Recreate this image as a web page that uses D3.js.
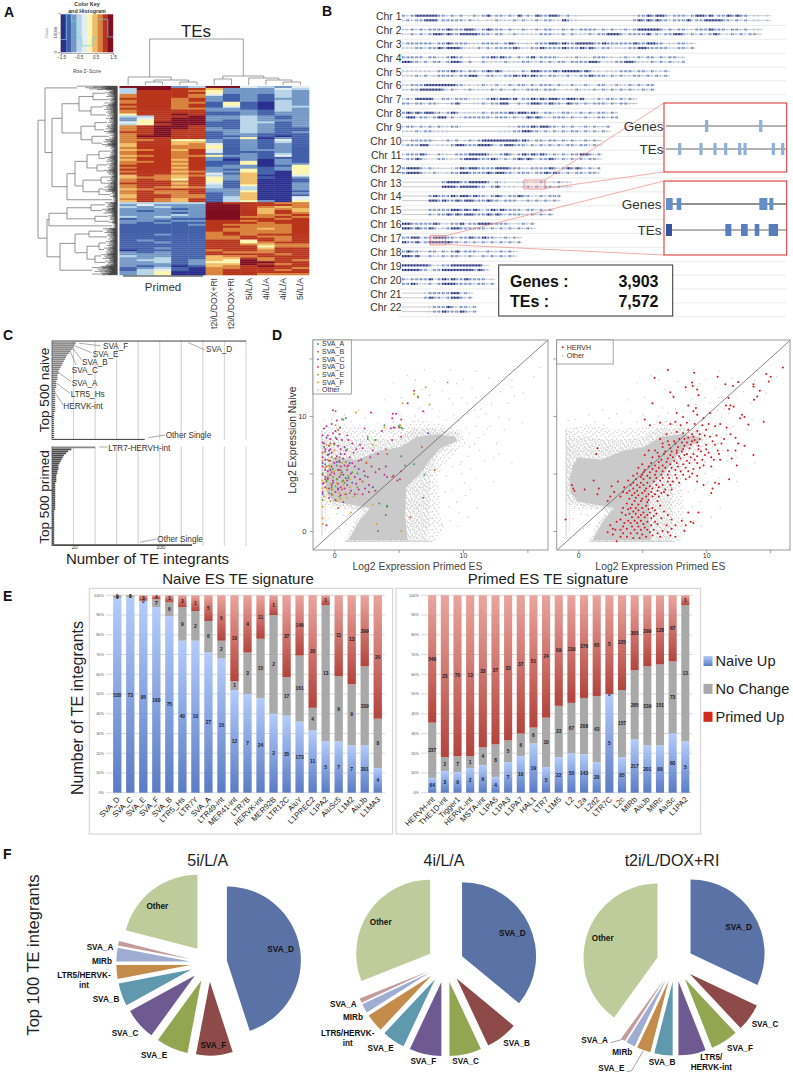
<!DOCTYPE html>
<html>
<head>
<meta charset="utf-8">
<script src="https://cdn.jsdelivr.net/npm/d3@7"></script>
<style>
	body { margin: 0; background: #fff; }
	text { font-family: "Liberation Sans", Arial, sans-serif; }
</style>
</head>
<body>
<script>
// ---------- A: heatmap ----------
var heatColumns = ["P1", "P2", "P3", "P4", "P5", "t2i/L/DOX+RI", "t2i/L/DOX+RI", "5i/L/A", "4i/L/A", "4i/L/A", "5i/L/A"];
// one string per row, one digit per column, 0 = z -1.5 ... 9 = z +1.5
var heatRows = [
	"99923994324", "39988622243", "38887522232", "38888522232", "78887412132", "78887212132",
	"88878212122", "78878212132", "78877151032", "88878151032", "78878141033", "88877221032",
	"78888222132", "78888112122", "58898112122", "33889223212", "24899223212", "25899213222",
	"45999113312", "35899113212", "78998113212", "78998213211", "78988223211", "88988123212",
	"78988122111", "79988112101", "78888125021", "77855212141", "78866212131", "68867412121",
	"68877512121", "78877512121", "67868412221", "78878411121", "78878212131", "67877522141",
	"78878212111", "68868202021", "77878115021", "78868115022", "88878122015", "78868222125",
	"88878215125", "78867225105", "88878416105", "68767326004", "67768526102", "78758526001",
	"78878516001", "88868416002", "78878315002", "78767313002", "67888223002", "78778225001",
	"78778126002", "68877126001", "68877136004", "78768136004", "68768135205",
	"33333988877", "24222998887", "32322998767", "22212998676", "21222998686", "22212998687",
	"22232998778", "32322997787", "12211998878", "22122887888", "21211888788", "11112877778",
	"11111887778", "11111877678", "11111877778", "11111787778", "11211787888", "11111778778",
	"11111778878", "12111885878", "11211885788", "11111887677", "11111888577", "11211888688",
	"01111788788", "21211877788", "22211888878", "32211677888", "22311668788", "23312659787",
	"22312559988", "22212669878", "21201678988", "12310778887", "13410788878", "23500788888",
	"23500788777"
];
var keyColors = ["#2b2f8f", "#4361aa", "#7398c6", "#b8d4e8", "#e4eef2", "#fdf6b0", "#f0bd66", "#d9823c", "#b8351f", "#7f0f20"];
var keyCounts = [6500, 19600, 15800, 7400, 3300, 3300, 7400, 16800, 16800, 7800];
var keyTicks = [-1.5, -0.5, 0.5, 1.5];
var heatLabels = ["t2i/L/DOX+RI", "t2i/L/DOX+RI", "5i/L/A", "4i/L/A", "4i/L/A", "5i/L/A"];

// [height, child, child], leaf is a column index
var colTree = [46,
	[8, 0, [5, [3, 1, 2], [3, 3, 4]]],
	[9, [6, 5, 6], [7, 7, [5, 8, [3, 9, 10]]]]
];
// [height, child, child], leaf is [height, number of rows]
var rowTree = [79,
	[72, [40, 10],
		[65,
			[55,
				[38, [24, [12, 18], [9, 16]], [26, [14, 22], [11, 20]]],
				[36, [22, [10, 20], [13, 18]], [25, [8, 16], [15, 20]]]],
			[50,
				[42,
					[30, [18, [8, 22], [12, 16]], [20, [10, 18], [13, 14]]],
					[34, [16, [9, 18], [11, 14]], [18, [14, 16], [7, 14]]]],
				[5, 13]]]],
	[70,
		[68, [50, [26, [12, 14], [15, 16]], [22, [9, 14], [8, 12]]], [5, 12]],
		[57,
			[42,
				[28, [14, 16], [10, 14]],
				[30, [18, [11, 18], [13, 16]], [22, [16, 18], [12, 16]]]],
			[25, 25]]]
];
// how far each leaf stub reaches, as a share of its cluster height
var leafReach = [1, 0.35, 0.6, 0.25, 0.8, 0.4, 0.3, 0.7, 0.2, 0.5, 0.9, 0.3, 0.45, 0.25, 0.65, 0.35, 0.55];

// ---------- B: chromosome tracks ----------
var chrNames = ["Chr 1", "Chr 2", "Chr 3", "Chr 4", "Chr 5", "Chr 6", "Chr 7", "Chr 8", "Chr 9", "Chr 10", "Chr 11",
	"Chr 12", "Chr 13", "Chr 14", "Chr 15", "Chr 16", "Chr 17", "Chr 18", "Chr 19", "Chr 20", "Chr 21", "Chr 22"];
var chrLengths = [249, 243, 198, 191, 181, 171, 159, 146, 141, 135.5, 135, 133.8, 115, 107, 102.5, 90, 81, 78, 59, 63, 48, 51]; // Mb
// density per 3 Mb bin, read by eye: 0 none, 1 light, 2 mid, 3 dark
var geneTracks = [
	"21233333221212012123122121312132233212010000000000001223233212221233231223232201101",
	"112121222232223321232221211211212211212122221212112123333321212211222322212212011",
	"122222212232222111222212321011222332322333322322222232233220112211",
	"2222202211232201002232322021231222210112110222110121121220212211",
	"111111102223221221232320110213322232333323211011122212212112",
	"112223333333221101211201212212122212112112102201211212122",
	"12133331022122211112323323022323233223323101212212121",
	"2323233221232011112122223233232022112211212122121",
	"12212121211221000000000011222323322121201212112",
	"112222210121201212333333332321221221212112121",
	"122232102110222333321123212323232121212233212",
	"233321211001232332222333222112222321232321212",
	"00000000023332233332021100111012101211",
	"000000232223233232212321223220121222",
	"0000002222233232321232322220221212",
	"332222232012231223332222101212",
	"223312233322122322322112121",
	"23221022021231222102112121",
	"33333320122333333310",
	"212222302323223222201",
	"0000012222233121",
	"00000012223212212"
];
var teTracks = [
	"12122333122222121101121112121121221132110000000000002323232212223122333322121201101",
	"102121233232233332221220121111122211202111212233321222231212233212121232012121221",
	"111221223233321112121222232112232222322232321221111223322222112212",
	"3322120220233202002111121112211212122022223320112233211121212112",
	"111212012222122331022112232323221221120122322212121122121212",
	"112233333212101211112121121122212221011211121212121211212",
	"22122122101231001121223310212332232213221212221212211",
	"1331221233120122222212221211323211222121121122122",
	"11121221111000000000001112233221212121221212121",
	"122233101112332223332123322212121212122122121",
	"122321002211123332223212123232122321212121221",
	"233321121012233222232332212221223232121221221",
	"00000000033323333220231111012121221211",
	"000000332322323322232212220121212121",
	"0000002122323233222323212221121212",
	"332322320123322222212121212121",
	"322312333332212121212121212",
	"33231021121221121021212121",
	"33332202233333332321",
	"223201202333222212212",
	"0000023221233212",
	"00000012232223212"
];
// inset positions along the magnified window
var inset1Genes = [128, 290];
var inset1TEs = [47, 111, 153, 185, 227, 243, 328, 356];
var inset2Genes = [[6, 26], [38, 52], [286, 310], [316, 328]];
var inset2TEs = [[6, 24], [184, 202], [231, 251], [272, 286], [314, 342]];
var statLabels = ["Genes :", "TEs :"];
var statValues = ["3,903", "7,572"];

// ---------- C: ranked integrant bars ----------
var naiveBars = [180, 22, 21, 20, 19, 17, 16, 14, 13, 12, 11, 10, 9, 8, 7, 6, 6, 5, 5, 5, 4, 4, 4, 4, 3, 3, 3, 3, 3, 3, 3, 3, 3, 3, 3, 3, 2, 2, 2, 2, 2, 2, 2, 2, 2, 2, 2, 2, 2, 86];
var primedBars = [40, 18, 15, 13, 11, 10, 9, 8, 7, 6, 6, 6, 5, 5, 4, 4, 4, 4, 3, 3, 3, 3, 3, 3, 3, 3, 3, 3, 3, 3, 3, 3, 2, 2, 2, 2, 2, 2, 2, 2, 2, 2, 2, 2, 2, 2, 2, 2, 2, 130];
var integrantTicks = [20, 100];
var integrantGrid = [20, 40, 60, 80, 100, 120, 140, 160, 180];

// ---------- D: scatter, [primed, naive] ----------
var denseCloud = [[-0.05, 6.4], [1.76, 6.2], [3.58, 7], [5.13, 7.3], [6.42, 8.2], [7.98, 8.4], [9.4, 8.2], [9.53, 7.8], [8.24, 7.2], [7.46, 6.2], [6.7, 5], [5.6, 3.8], [5.5, 1.5], [5.7, -0.8], [1.1, -0.8], [2, 0.96], [2.8, 2], [1.5, 2.27], [-0.05, 2.56], [-0.57, 3.3], [-0.7, 4.45], [-0.44, 5.6]];
var mediumCloud = [[-0.95, 8], [0.5, 8.2], [2, 7.9], [3.4, 7.9], [5, 8.1], [6.2, 8.9], [7.9, 8.9], [9.6, 8.6], [9.8, 7.8], [8.7, 7.3], [7.9, 6.3], [7.5, 5], [7.4, 2.7], [7.4, 0.5], [7.1, -0.9], [0.9, -0.9], [1.7, 0.9], [2.3, 1.7], [1.1, 2], [-0.3, 2.3], [-0.95, 2.9]];
var sparseCloud = [[-0.95, 8.9], [0.8, 9.3], [3, 8.8], [4.5, 9], [5.5, 9.3], [6.5, 9.7], [7.8, 9.4], [9.8, 8.8], [10.2, 7.6], [9.2, 6.6], [8.4, 5.6], [8, 4.5], [8.2, 3], [8.2, 1.5], [8.5, 0.2], [7.9, -0.9], [0.8, -0.9], [1.5, 0.9], [2.1, 1.8], [1, 1.9], [-0.4, 1.9], [-0.95, 2.5]];
var otherPoints = [[7, 14], [9, 14], [11, 13.9], [14, 14], [16, 14.2], [5.7, 13.5], [7.8, 13], [10, 13.2], [12, 13.3], [13.8, 13.1], [4.6, 12.9], [6.3, 13.1], [8.4, 12.2], [13.8, 12.5], [15.5, 13.4], [14.7, 12], [14, 11.7], [13.5, 11.1], [11, 11.6], [12.2, 11], [11.4, 10.6], [10.3, 11.1], [9.2, 11], [8.2, 10.4], [3, 10.2], [1.9, 10.5], [0.8, 10.1], [5.1, 10.1], [6.3, 10], [7, 10.3], [9.7, 9.6], [10.4, 10.2], [11.2, 9.9], [12.8, 9.9], [13.6, 9.7], [14.6, 9.4], [11, 9.1], [11.9, 8.9], [12.1, 9.1], [10.5, 8.5], [11.2, 8.1], [12.6, 7.6], [12.8, 6.7], [12.4, 6.4], [11.3, 7], [10.5, 7.3], [10.4, 6.5], [9.9, 6], [10.6, 5.4], [11, 4.6], [10.6, 3.6], [10.2, 3.1], [11.1, 2], [9.7, 1.6], [9.5, 2.5], [9, 0.9], [8.4, 0.5], [9.6, 0.4], [13.8, 5.9], [12.4, 4.3], [2, 9.2], [-0.2, 9.7], [-0.8, 9.6], [1.3, 9.5], [3.4, 9.4], [4.6, 9.5], [0.4, 0.2], [0.9, 0.6], [-0.4, 1.1], [0.2, 1.5], [0.7, 1.4],
	[8.1, 9.9], [8.7, 9.6], [9.3, 10.1], [7.6, 10.6], [6.6, 10.7], [4.1, 10.4], [2.4, 9.8], [10.9, 10.5], [11.8, 10.2], [9.9, 11.6], [8.9, 11.5], [10.7, 12.4], [12.9, 12.1], [9.5, 12.8], [6.8, 12.3], [5.2, 11.6], [7.4, 11.8], [3.9, 11.4], [10.2, 8.9], [11.6, 8.4], [13.2, 8.8], [10.9, 7.6], [11.7, 6.1], [9.9, 5], [10.1, 4.2], [9.2, 3.6], [8.9, 2.1], [10.4, 1.2], [9.8, 5.8], [9.2, 5.6], [8.7, 4.8], [8.6, 3.4]];
var svaA = [[0.6, 9.7], [0.9, 9.8], [3.9, 9.2], [5, 9.1], [5.3, 8.9], [0.1, 8.1], [2.6, 8], [3.2, 7.9], [5.2, 6.5], [6.2, 5.8], [5.5, 5.7], [7, 4.9], [1.8, 5], [1.1, 4.6], [6.9, 2.9], [3.5, 2.4], [4.1, 2.2], [4.1, 2.1], [4, 1.4], [3.4, 0], [0.4, 6.1], [-0.1, 5.4], [0.8, 4.2], [-0.4, 6.7], [-0.8, 7.3], [-0.2, 3.8], [-0.7, 5.8], [0.2, 5.7], [-0.6, 4.3], [0.5, 4.9]];
var svaB = [[0.1, 10.4], [0.3, 8.8], [4.7, 9], [4, 7.1], [4.1, 6.7], [6.8, 7.3], [5.2, 5.2], [7.8, 5.3], [4.5, 4.7], [0.3, 2], [5.9, 1.2], [1, 5.6], [-0.3, 7.6], [0.6, 3.6], [-0.5, 4.5], [0.1, 6.3], [-0.9, 6.8], [2.2, 4.3], [-0.2, 5.1], [-0.6, 5.6], [0.4, 5.3], [-0.8, 4.2], [0.7, 4.4], [-0.3, 6.1]];
var svaC = [[0.45, 9], [4.6, 9], [7.3, 8.5], [2.4, 4.8], [1.2, 5.9], [0.5, 6.7], [-0.3, 5.3], [-0.6, 8.1], [0.3, 3.7], [3, 3.8], [-0.9, 3.2], [0.8, 7.3], [-0.1, 4.2], [2.1, 6.2], [-0.4, 7], [1.9, 5.4], [1.4, 4.2], [-0.9, 5.9], [-0.7, 4.7], [0.2, 6], [0.6, 5.1], [-0.2, 6.4], [-0.8, 7.6], [0.9, 4.6]];
var svaD = [[-0.1, 10.5], [6.2, 12.2], [6.9, 10.4], [5.7, 11.1], [2.85, 10.3], [4.55, 10.2], [4.8, 10.2], [4.5, 9.8], [2.35, 8.9], [3.7, 8.7], [4.4, 8.9], [5.05, 9], [5.2, 8.2], [4.5, 7.9], [-0.2, 9.3], [-0.8, 8.9], [-0.6, 9.1], [0.1, 8.7], [0.4, 8.4], [1, 8.3], [-0.3, 8], [-0.9, 8.3], [0.6, 7.9], [1.4, 7.6], [2, 7.5], [2.2, 7.2], [3, 7], [3.4, 6.7], [0.3, 7.4], [-0.4, 7.4], [-0.9, 7.7], [0.9, 7], [1.5, 6.8], [-0.7, 6.9], [-0.2, 6.8], [0.2, 6.5], [0.7, 6.3], [1.2, 6.4], [1.9, 6.1], [2.5, 5.9], [-0.9, 6.4], [-0.4, 6.1], [0, 5.9], [0.5, 5.6], [1, 5.3], [1.6, 5.6], [2.3, 5.2], [3.2, 5.1], [3.5, 5.4], [4, 5.6], [3.9, 4.9], [-0.9, 5.6], [-0.5, 5.2], [0, 5], [0.4, 4.7], [1, 4.4], [1.6, 4.7], [2.7, 4], [3.2, 3.5], [-0.9, 4.9], [-0.5, 4.6], [-0.1, 4.4], [0.3, 4.1], [0.8, 3.7], [1.3, 3.5], [2.2, 3.2], [2.7, 3.4], [-0.9, 4.1], [-0.4, 3.7], [0.1, 3.4], [0.5, 3.1], [-0.9, 3.4], [-0.4, 2.9], [0.1, 2.7], [0.7, 2.5], [-0.6, 0.5], [5.1, 4.5], [4.9, 4.4], [4.6, 4.8], [4.1, 4.7], [5.2, 9.7], [0.2, 9.6],
	[-0.7, 7.1], [-0.5, 6.6], [-0.3, 7.1], [0, 7.6], [0.2, 8], [0.5, 7.1], [0.8, 6.7], [0.4, 6], [-0.7, 6.2], [-0.2, 5.6], [0.3, 5.3], [0.8, 5.7], [-0.7, 5.3], [-0.3, 4.9], [0.2, 4.5], [0.7, 4.9], [1.3, 5], [-0.7, 4.5], [-0.2, 4], [0.5, 3.8], [1, 4], [1.7, 4.1], [-0.7, 3.8], [-0.2, 3.2], [0.3, 3.6], [0.9, 3.2], [1.6, 3.2], [1.9, 3.6], [2.4, 3.7], [1.4, 5.9], [1.1, 5.7], [2, 4.5], [2.6, 4.7], [2.9, 5.6], [2.8, 6.4], [1.7, 7.1], [1.1, 7.9], [-0.5, 8.3], [-0.1, 8.5]];
var svaE = [[6.5, 11.6], [6.5, 11.7], [0.7, 9.7], [5.1, 9.2], [5.2, 9], [2.6, 8.2], [3.2, 7.9], [1, 7.1], [0, 7.5], [-0.5, 6.2], [0.5, 5.3], [1.1, 4.8], [-0.2, 3.6], [0.9, 6], [-0.9, 5], [1.4, 5.1], [0.2, 4.5], [-0.4, 3.3], [1.8, 3.8], [0.4, 3], [-0.9, 2.7], [-0.6, 4.4], [-0.1, 4.7], [0.6, 4.3], [0.1, 3.9], [-0.4, 5.7], [0.4, 6.4], [1.2, 3.3]];
var svaF = [[8.8, 12.9], [7.1, 12.5], [6.2, 11.9], [7.4, 11], [5.3, 11.1], [1.7, 10.3], [0.1, 9.2], [3.9, 9], [5.1, 9.2], [3, 7.5], [2.5, 6], [0, 7], [-0.9, 6.1], [-0.3, 5.5], [0.5, 5], [1.2, 3.8], [-0.9, 4.4], [-0.1, 3.1], [0.2, 2.6], [-0.9, 2.1], [-0.9, 1.1], [-0.9, 0.6], [1.3, 1.6], [3, 2.3], [3.3, 0.6], [5.2, 0], [-0.3, 4.1], [0.8, 3.2], [1, 2.9],
	[-0.6, 3.7], [-0.1, 3.6], [0.4, 3.3], [-0.5, 4.8], [0.2, 4.2], [0.7, 4], [-0.7, 5.5], [0, 5.2], [0.6, 5.9], [1.2, 4.5], [-0.8, 3], [-0.3, 2.6], [0.5, 2.8], [-0.2, 6.4], [-0.6, 7.5], [1.5, 3], [1.8, 3.2], [-0.9, 3.7]];
var hervh = [[16, 14.2], [7, 14], [9.06, 13.75], [5.96, 13.3], [10.9, 13.4], [14.7, 13.65], [15.05, 13.4], [14.9, 13], [12.5, 12.95], [11.5, 12.75], [12.1, 12.6], [13.7, 12.75], [13.7, 12.55], [14.2, 12.2], [14, 11.7], [13.75, 11.4], [8.9, 12.9], [8.95, 12.6], [9.3, 12.3], [8.4, 12.5], [7.2, 12.05], [7.45, 11.65], [9.4, 11.8], [5.8, 11.1], [8.6, 10.9], [11.75, 11.55], [11.55, 10.9], [11.9, 10.9], [12.15, 10.8], [11.8, 10.6], [9.2, 10.7], [9, 10.4], [7.7, 10.25], [8.2, 9.9], [9.3, 10.1], [10.3, 10.25], [9.8, 9.8], [12.8, 10.1], [13, 9.9], [12.65, 9.8], [13.3, 9.25], [14.5, 9.5],
	[5.2, 9.7], [5.6, 9.2], [6.4, 9.4], [7.2, 9.3], [7.6, 9.5], [8, 9.2], [8.5, 9.4], [9.1, 9.3], [9.7, 9.2], [10.2, 9.3], [10.7, 9.1], [11.1, 9.3], [11.6, 9], [10, 8.8], [9.3, 8.7], [8.6, 8.8], [8.9, 8.4], [8.2, 8.5], [7.7, 8.6], [6.9, 8.4], [6.4, 8], [7, 7.8], [7.5, 7.8], [7.9, 8], [8.3, 8], [8.6, 8.1], [9.1, 7.9], [9.5, 8], [9.9, 8.3], [10.3, 8.2], [10.8, 8.3], [11.4, 8], [11.9, 8.4], [12.3, 8.1], [12.5, 7.6], [13, 7.4], [11.2, 7.6], [10.7, 7.5], [10, 7.5], [9.4, 7.4], [8.8, 7.5], [8.3, 7.4], [7.8, 7.3], [7.2, 7.2], [6.6, 7.3], [6, 7], [5.5, 7], [5.2, 6.6], [5.8, 6.4], [6.3, 6.5], [6.7, 6.7], [7.2, 6.6], [7.7, 6.8], [8.1, 6.9], [8.5, 6.7], [9, 6.7], [9.6, 6.9], [10.2, 6.8], [11, 6.7], [11.7, 7], [12.3, 7], [13.7, 6.6], [12, 6.3], [11.1, 6.2], [10.4, 6.4], [9.7, 6.2], [9.1, 6.2], [8.5, 6.1], [8, 6.3], [7.5, 6.1], [6.9, 6], [6.3, 6],
	[5.7, 5.9], [5, 5.8], [4.7, 5.5], [5.2, 5.3], [5.8, 5.4], [6.3, 5.5], [6.8, 5.5], [7.3, 5.5], [7.8, 5.6], [8.4, 5.5], [9, 5.4], [9.5, 5.5], [10.4, 5.6], [12.4, 5.7], [11.8, 4.5], [11, 4.1], [10.7, 4.2], [10.5, 3.7], [9.8, 4], [9.3, 4.3], [8.7, 4.7], [8.2, 4.9], [7.6, 4.9], [7, 4.9], [6.5, 4.9], [6, 4.9], [5.4, 4.8], [4.9, 4.7], [4.3, 4.8], [3.9, 4.4], [4.3, 4.2], [4.9, 4.2], [5.4, 4.2], [5.9, 4.3], [6.4, 4.4], [7, 4.3], [7.4, 4.3], [7.9, 4.2], [4.3, 3.7], [4.8, 3.8], [5.3, 3.7], [5.8, 3.7], [6.3, 3.8], [6.8, 3.6], [7.3, 3.6], [3.8, 3.3], [4.4, 3.3], [5, 3.3], [5.5, 3.2], [6, 3.2], [6.5, 3.3], [7, 3.1], [10.4, 3.3], [3.1, 4.3], [2.6, 3.9], [2.8, 3.4], [2.5, 3], [2.3, 2.6], [3.3, 3], [4, 2.8], [4.5, 2.9], [5, 2.8], [5.5, 2.7], [6.2, 2.6], [4.2, 2.3], [4.7, 2.3], [5.3, 2.2], [5.8, 2], [6.4, 2.2], [3.9, 1.9], [4.3, 1.7], [4.7, 1.8], [5.1, 1.6], [5.6, 1.6], [6.1, 1.5], [8.6, 1.6], [9.4, 1.6], [3.7, 1.4], [4.2, 1.2], [4.7, 1.2], [5.2, 1.2], [5.7, 1.1], [6.5, 1.1], [7.3, 1], [8.1, 0.9], [8.8, 0.8], [9, 0.7], [3.3, 1], [3.6, 0.7], [4.1, 0.7], [4.6, 0.7], [5.1, 0.6], [5.7, 0.5], [6.2, 0.6], [6.9, 0.5], [7.6, 0.5], [8.4, 0.5], [2.5, 0.5], [2.9, 0.1], [3.3, 0.1], [3.8, 0.2], [4.4, 0.1], [4.9, 0.1], [5.4, 0.1], [5.9, 0.1], [6.6, 0], [7.3, 0.2], [8.3, 0], [2.7, -0.3], [3.3, -0.5], [3.8, -0.5], [4.3, -0.6], [4.8, -0.6], [5.3, -0.5], [5.8, -0.4], [6.4, -0.5], [7.2, -0.4], [3, -0.9],
	[-0.5, 4], [-0.4, 3.7], [-0.3, 3.5], [0.5, 3.6], [1.2, 4.4], [1.6, 3.7], [1.5, 3.2], [1.4, 6.7], [1.5, 7.2], [-1, 1],
	[6.6, 7.6], [7.1, 7.5], [7.6, 7.6], [8.1, 7.7], [8.5, 7.7], [8.9, 7.8], [9.3, 7.7], [8.7, 7.2], [8.2, 7.1], [7.7, 7], [7.3, 6.9], [6.8, 6.9], [6.2, 6.8], [6.5, 6.2], [7, 6.3], [7.4, 6.4], [7.9, 6.5], [8.3, 6.6], [8.8, 6.4], [9.3, 6.5], [9.9, 6.6], [8.7, 5.9], [8.2, 5.8], [7.7, 5.9], [7.2, 5.8], [6.6, 5.7], [6, 5.7], [5.5, 5.6], [5.1, 5.1], [5.6, 5.1], [6.1, 5.2], [6.6, 5.2], [7.1, 5.2], [7.6, 5.3], [8, 5.2], [8.6, 5.2], [4.6, 5], [5, 4.9], [5.6, 4.6], [6.1, 4.6], [6.6, 4.6], [7.1, 4.6], [7.7, 4.6], [4.5, 4.5], [5.1, 4.5], [4.1, 4], [4.6, 4], [5.1, 4], [5.6, 3.9], [6.1, 4], [6.6, 4], [7.2, 4], [3.6, 3.8], [4, 3.5], [4.6, 3.5], [5.2, 3.5], [5.7, 3.4], [6.2, 3.5], [6.7, 3.4], [3.5, 3.4], [4.2, 3.1], [4.7, 3.1], [5.3, 3], [5.8, 3], [6.3, 3], [4.4, 2.6], [4.9, 2.6], [5.4, 2.5], [3.8, 2.4], [3.5, 2], [4.1, 2], [4.5, 2], [5, 2], [5.5, 1.9], [6, 1.8], [6.7, 1.7], [3.4, 1.6], [4, 1.5], [4.5, 1.5], [4.9, 1.4], [5.4, 1.4], [5.9, 1.3], [7, 1.4], [3, 0.8], [3.9, 0.9], [4.4, 0.9], [4.9, 0.9], [5.4, 0.8], [6, 0.8], [2.7, 0.2], [3.5, 0.4], [4.2, 0.4], [4.7, 0.4], [5.2, 0.3], [5.6, -0.1], [4.1, -0.2], [3.5, -0.2], [6.2, -0.2], [7, -0.1], [7.6, -0.5], [2.3, -0.1], [5, -0.3], [4.6, -0.2], [9.5, 8.4], [9, 8.2], [10.5, 7.8], [10.9, 7], [10, 7.1], [9.4, 7.1], [10.6, 6.2], [9.3, 5.9], [9.8, 5.7], [8.9, 5], [8.4, 4.5], [9.3, 4.8]];

// ---------- E: stacked percent bars ----------
var naiveNames = ["SVA_D", "SVA_C", "SVA_E", "SVA_F", "SVA_B", "LTR5_Hs", "LTR7Y", "SVA_A", "LTR49-int", "MER41-int", "LTR7B", "HERVK-int", "MER92B", "LTR12C", "AluY", "L1PREC2", "L1PA2", "AluSc5", "L1M2", "AluJb", "L1MA3"];
var naiveUp = [98.5, 99, 97, 94, 89.5, 77, 77, 71, 68, 52, 50, 48, 40, 39, 36, 31.5, 26, 26, 24, 24, 12.5];
var naiveNoChange = [1.2, 1, 0.3, 4, 7, 17, 15, 16, 9, 4.5, 21, 30, 50, 19.5, 33.5, 11.5, 69, 33, 31, 40, 25];
var naiveUpCounts = [530, 73, 95, 160, 75, 40, 10, 27, 15, 12, 7, 24, 2, 35, 173, 11, 5, 7, 7, 201, 4];
var naiveNoCounts = [9, 1, 0, 7, 6, 9, 2, 6, 2, 1, 3, 15, 2, 17, 161, 4, 13, 9, 9, 339, 8];
var naivePrimedCounts = [0, 0, 3, 4, 3, 3, 1, 5, 5, 10, 4, 11, 1, 37, 146, 20, 1, 11, 13, 299, 20];
var primedNames = ["HERVH-int", "THE1D-int", "Tigger1", "HERVL-int", "MSTA-int", "L1PA5", "L1PA3", "L1PA7", "HAL1", "LTR7", "L1M5", "L2", "L2a", "L2d2", "LTR7C", "L2c", "MIRb", "AluJb", "MIRc", "AluSc", "L1PA2"];
var primedUp = [7.5, 11, 10.5, 12.5, 14, 8, 15.5, 18.5, 25, 13, 18, 20, 19.5, 15.5, 50, 18, 27, 24, 24, 30, 26];
var primedNoChange = [28, 7, 8, 6, 9, 16.5, 11, 11.5, 8, 25, 26, 25.5, 28.5, 33.5, 0, 34, 35, 40, 41, 36.5, 69];
var primedUpCounts = [64, 3, 9, 2, 6, 4, 7, 10, 19, 5, 22, 50, 143, 20, 5, 85, 217, 201, 89, 60, 5];
var primedNoCounts = [237, 2, 7, 1, 4, 8, 5, 6, 6, 10, 33, 67, 208, 43, 0, 157, 285, 339, 151, 73, 13];
var primedPrimedCounts = [546, 23, 70, 13, 33, 37, 33, 37, 51, 24, 69, 139, 376, 65, 5, 225, 305, 299, 128, 67, 1];
var percentTicks = [0, 10, 20, 30, 40, 50, 60, 70, 80, 90, 100];
var legendNames = ["Naive Up", "No Change", "Primed Up"];

// ---------- F: exploded pies ----------
var pieTitles = ["5i/L/A", "4i/L/A", "t2i/L/DOX+RI"];
var pie5iValues = [45, 8, 7, 7, 5, 3, 3, 1, 21];
var pie4iValues = [36, 7, 7, 7, 5, 4, 2, 1, 31];
var pieT2iValues = [32, 6, 6, 6, 4, 3, 2, 1, 40];
var pie5iNames = ["SVA_D", "SVA_F", "SVA_E", "SVA_C", "SVA_B", "LTR5/HERVK-\nint", "MIRb", "SVA_A", "Other"];
var pie4iNames = ["SVA_D", "SVA_B", "SVA_C", "SVA_F", "SVA_E", "LTR5/HERVK-\nint", "MIRb", "SVA_A", "Other"];
var pieT2iNames = ["SVA_D", "SVA_C", "SVA_F", "LTR5/\nHERVK-int", "SVA_B", "SVA_E", "MIRb", "SVA_A", "Other"];

// ---------- layout helpers ----------
var svg = d3.select("body").append("svg")
	.attr("width", 793)
	.attr("height", 1074)
	.attr("viewBox", "0 0 793 1074")
	.style("display", "block");

var defs = svg.append("defs");
defs.append("filter").attr("id", "soften")
	.append("feGaussianBlur").attr("stdDeviation", 0.35);

var label = (sel, x, y, str, size, opts) => {
	opts = opts || {};
	var t = sel.append("text")
		.attr("x", x)
		.attr("y", y)
		.attr("font-size", size)
		.attr("fill", opts.fill || "#222")
		.attr("text-anchor", opts.anchor || "start")
		.text(str);
	if (opts.bold) t.attr("font-weight", "bold");
	if (opts.rotate != null) t.attr("transform", "rotate(" + opts.rotate + "," + x + "," + y + ")");
	return t;
}

var letters = [["A", 4, 17], ["B", 322, 16], ["C", 3, 340], ["D", 272, 340], ["E", 3, 601], ["F", 3, 859]];
letters.forEach(d => label(svg, d[1], d[2], d[0], 14, {bold: true, fill: "#111"}));

// ---------- A ----------
var panelA = svg.append("g").attr("class", "panelA");

var keyX = d3.scaleLinear().domain([-1.5, 1.5]).range([61, 113]);
var keyY = d3.scaleLinear().domain([0, 20000]).range([52.3, 13]);
var keyBand = d3.scaleBand().domain(d3.range(keyColors.length)).range([61, 113]);
panelA.selectAll("rect.key").data(keyColors).join("rect")
	.attr("x", (d, i) => keyBand(i))
	.attr("y", 14.3)
	.attr("width", keyBand.bandwidth() + 0.2)
	.attr("height", 38)
	.attr("fill", d => d);
var histLine = d3.line()
	.x(d => keyBand(d[0]) + d[2] * keyBand.bandwidth())
	.y(d => keyY(d[1]));
var histPoints = [];
keyCounts.forEach((c, i) => { histPoints.push([i, c, 0]); histPoints.push([i, c, 1]); });
panelA.append("path")
	.attr("d", histLine(histPoints))
	.attr("fill", "none")
	.attr("stroke", "#6fd3e0")
	.attr("stroke-width", 0.7);
var keyAxis = panelA.append("g")
	.attr("transform", "translate(0,53)")
	.call(d3.axisBottom(keyX).tickValues(keyTicks).tickSize(2).tickFormat(d => (d + "").replace("-", "\u2212")));
keyAxis.selectAll("text").attr("font-size", 4.6).attr("fill", "#333").attr("dy", "0.2em");
keyAxis.selectAll("line, path").attr("stroke", "#444").attr("stroke-width", 0.4);
var countAxis = panelA.append("g")
	.attr("transform", "translate(60,0)")
	.call(d3.axisLeft(keyY).tickValues([0, 10000]).tickSize(2).tickFormat(""));
countAxis.selectAll("line, path").attr("stroke", "#444").attr("stroke-width", 0.4);
[0, 10000].forEach(t => label(panelA, 57, keyY(t), t, 4.2, {anchor: "middle", rotate: -90, fill: "#333"}));
label(panelA, 47.5, 33, "Count", 3.6, {anchor: "middle", rotate: -90, fill: "#555"});
label(panelA, 87, 5.8, "Color Key", 5.4, {anchor: "middle", bold: true, fill: "#333"});
label(panelA, 87, 13.4, "and Histogram", 5.4, {anchor: "middle", bold: true, fill: "#333"});
label(panelA, 87, 73, "Row Z\u2212Score", 4.6, {anchor: "middle", fill: "#444"});

var heatX = d3.scaleBand().domain(d3.range(heatColumns.length)).range([119.5, 309]);
var heatY = d3.scaleBand().domain(d3.range(heatRows.length)).range([86, 275]);
var heatColor = d3.scaleQuantize().domain([-1.5, 1.5]).range(keyColors);
var digitToZ = d => -1.5 + (+d + 0.5) * 0.3;
var heatGroup = panelA.append("g").attr("filter", "url(#soften)");
heatRows.forEach((row, r) => {
	heatGroup.selectAll("rect.r" + r).data(row.split("")).join("rect")
		.attr("class", "r" + r)
		.attr("x", (d, c) => heatX(c))
		.attr("y", heatY(r))
		.attr("width", heatX.bandwidth() + 0.3)
		.attr("height", heatY.bandwidth() + 0.3)
		.attr("fill", d => heatColor(digitToZ(d)));
});

// column dendrogram
var colH = d3.scaleLinear().domain([0, 46]).range([85, 39]);
var drawCol = node => {
	if (typeof node === "number") return {x: heatX(node) + heatX.bandwidth() / 2, h: 0};
	var a = drawCol(node[1]);
	var b = drawCol(node[2]);
	panelA.append("path")
		.attr("d", "M" + a.x + "," + colH(a.h) + "V" + colH(node[0]) + "H" + b.x + "V" + colH(b.h))
		.attr("fill", "none")
		.attr("stroke", "#777")
		.attr("stroke-width", 0.7);
	return {x: (a.x + b.x) / 2, h: node[0]};
}
drawCol(colTree);

// row dendrogram
var rowLeafCount = node => typeof node[1] === "number" ? node[1] : rowLeafCount(node[1]) + rowLeafCount(node[2]);
var rowScale = d3.scaleLinear().domain([0, rowLeafCount(rowTree)]).range([86, 275]);
var rowH = d3.scaleLinear().domain([0, 79]).range([117, 38]);
var leafCursor = 0;
var drawRow = node => {
	if (typeof node[1] === "number") {
		var top = leafCursor;
		d3.range(node[1]).forEach(i => {
			var y = rowScale(top + i + 0.5);
			var reach = node[0] * leafReach[(top + i) % leafReach.length];
			panelA.append("line")
				.attr("x1", rowH(reach)).attr("x2", 117.5)
				.attr("y1", y).attr("y2", y)
				.attr("stroke", "#000")
				.attr("stroke-width", 0.42);
		});
		leafCursor += node[1];
		return {y: rowScale(top + node[1] / 2), h: node[0]};
	}
	var a = drawRow(node[1]);
	var b = drawRow(node[2]);
	panelA.append("path")
		.attr("d", "M" + rowH(a.h) + "," + a.y + "H" + rowH(node[0]) + "V" + b.y + "H" + rowH(b.h))
		.attr("fill", "none")
		.attr("stroke", "#666")
		.attr("stroke-width", 0.7);
	return {y: (a.y + b.y) / 2, h: node[0]};
}
drawRow(rowTree);

label(panelA, 196, 37, "TEs", 17, {anchor: "middle", fill: "#222"});
panelA.append("line")
	.attr("x1", 123).attr("x2", 203).attr("y1", 276).attr("y2", 276)
	.attr("stroke", "#111").attr("stroke-width", 0.9);
label(panelA, 163, 291, "Primed", 11.5, {anchor: "middle", fill: "#333"});
heatLabels.forEach((d, i) => {
	var cx = heatX(i + 5) + heatX.bandwidth() / 2 + 3;
	label(panelA, cx, 278, d, 8.6, {anchor: "end", rotate: -90, fill: "#333"});
});

// ---------- B ----------
var panelB = svg.append("g").attr("class", "panelB");
var chrY = d3.scalePoint().domain(chrNames).range([16.7, 308]);
var mbX = d3.scaleLinear().domain([0, 249]).range([402, 771]);
var blues = ["", "#b3c6e4", "#6f8fc6", "#23307f"];

chrNames.forEach((name, i) => {
	var cy = chrY(name);
	panelB.append("line")
		.attr("x1", 398).attr("x2", 786).attr("y1", cy + 8.7).attr("y2", cy + 8.7)
		.attr("stroke", "#e2e2e2").attr("stroke-width", 0.7);
	label(panelB, 401.5, cy + 3.4, name, 10.4, {anchor: "end", fill: "#333"});
	[[geneTracks[i], cy - 1], [teTracks[i], cy + 3.6]].forEach(track => {
		panelB.append("line")
			.attr("x1", mbX(0)).attr("x2", mbX(chrLengths[i]))
			.attr("y1", track[1]).attr("y2", track[1])
			.attr("stroke", "#a8a8a8").attr("stroke-width", 0.6);
		// a bin holds as many fine ticks as its level
		var ticks = [];
		track[0].split("").forEach((d, k) => {
			d3.range(+d).forEach(j => ticks.push({level: +d, mb: k * 3 + j}));
		});
		panelB.selectAll(null).data(ticks).join("rect")
			.attr("x", d => mbX(d.mb))
			.attr("y", track[1] - 1.1)
			.attr("width", 1.1)
			.attr("height", 2.2)
			.attr("fill", d => blues[d.level]);
	});
});

// window markers and zoom guides
var guideLines = [[545, 180, 664, 103], [545, 188.5, 664, 172], [445.7, 235.7, 664, 181], [445.7, 244.5, 664, 255]];
guideLines.forEach(d => {
	panelB.append("line")
		.attr("x1", d[0]).attr("y1", d[1]).attr("x2", d[2]).attr("y2", d[3])
		.attr("stroke", "#ee8a84").attr("stroke-width", 0.7);
});
[[524, 180, 21, 9], [430, 235.7, 15.7, 9.3]].forEach(d => {
	panelB.append("rect")
		.attr("x", d[0]).attr("y", d[1]).attr("width", d[2]).attr("height", d[3])
		.attr("fill", "#f8b0a8").attr("fill-opacity", 0.25)
		.attr("stroke", "#e8756e").attr("stroke-width", 0.7);
});

var insetX = d3.scaleLinear().domain([0, 368]).range([664, 786.7]);
var insets = [
	{box: [103, 172], lines: [126, 149], genes: inset1Genes, tes: inset1TEs, stroke: "#666"},
	{box: [181, 255], lines: [204, 230], genes: inset2Genes, tes: inset2TEs, stroke: "#222"}
];
insets.forEach((ins, n) => {
	panelB.append("rect")
		.attr("x", 664).attr("y", ins.box[0]).attr("width", 122.7).attr("height", ins.box[1] - ins.box[0])
		.attr("fill", "#fff").attr("stroke", "#d92b2b").attr("stroke-width", 1);
	ins.lines.forEach((ly, k) => {
		panelB.append("line")
			.attr("x1", 666).attr("x2", 786).attr("y1", ly).attr("y2", ly)
			.attr("stroke", k == 0 ? ins.stroke : "#666").attr("stroke-width", 1);
		var marks = k == 0 ? ins.genes : ins.tes;
		panelB.selectAll(null).data(marks).join("rect")
			.attr("x", d => Array.isArray(d) ? insetX(d[0]) : insetX(d) - 1.6)
			.attr("width", d => Array.isArray(d) ? insetX(d[1]) - insetX(d[0]) : 3.2)
			.attr("y", ly - 6)
			.attr("height", 12)
			.attr("fill", (d, j) => n == 0 ? "#8fb0d8" : (k == 1 && j == 0 ? "#34539f" : (k == 1 ? "#5a7dbc" : "#6390c8")));
	});
	label(panelB, n == 0 ? 663.5 : 661.5, ins.lines[0] + 4.5, "Genes", 13.5, {anchor: "end", fill: "#333"});
	label(panelB, n == 0 ? 663.5 : 661.5, ins.lines[1] + 4.5, "TEs", 13.5, {anchor: "end", fill: "#333"});
});

panelB.append("rect")
	.attr("x", 498.7).attr("y", 265).attr("width", 174).attr("height", 51)
	.attr("fill", "#fff").attr("stroke", "#333").attr("stroke-width", 1);
statLabels.forEach((d, i) => {
	label(panelB, 510, 287 + i * 20, d, 16, {bold: true, fill: "#111"});
	label(panelB, 658.5, 287 + i * 20, statValues[i], 16, {bold: true, anchor: "end", fill: "#111"});
});

// ---------- C ----------
var panelC = svg.append("g").attr("class", "panelC");
var cX = d3.scaleLinear().domain([0, 180]).range([52, 246]);

var drawRanked = (values, top, bottom, pad, firstColor) => {
	var cY = d3.scaleBand().domain(d3.range(values.length)).range([top, bottom]).paddingInner(pad);
	integrantGrid.forEach((g, i) => {
		panelC.append("line")
			.attr("x1", cX(g)).attr("x2", cX(g)).attr("y1", top).attr("y2", bottom)
			.attr("stroke", i % 2 ? "#d8d8d8" : "#c4c4c4")
			.attr("stroke-width", i % 2 ? 1.3 : 0.8);
	});
	panelC.selectAll(null).data(values).join("rect")
		.attr("x", cX(0))
		.attr("y", (d, i) => cY(i))
		.attr("width", d => cX(d) - cX(0))
		.attr("height", Math.max(cY.bandwidth(), 0.8))
		.attr("fill", (d, i) => i == 0 ? firstColor : "#4c4c4c");
	panelC.append("line")
		.attr("x1", cX(0)).attr("x2", cX(0)).attr("y1", top).attr("y2", bottom)
		.attr("stroke", "#555").attr("stroke-width", 0.8);
}
drawRanked(naiveBars, 340.5, 440, 0.45, "#555");
drawRanked(primedBars, 446.5, 546, 0.12, "#8a8a8a");

var cLabels = [
	["SVA_D", 206, 352, [188.3, 342.7, 205, 350]],
	["SVA_F", 103, 349, [79.3, 343.3, 100, 345.7]],
	["SVA_E", 92.7, 357, [75, 346, 91.7, 352.7]],
	["SVA_B", 82, 365, [72.7, 348.3, 81.7, 360]],
	["SVA_C", 71.7, 372.5, [70, 350.7, 76, 365]],
	["SVA_A", 71.7, 386, [57.3, 371.7, 71, 381.7]],
	["LTR5_Hs", 70.7, 397, [56.7, 383.3, 70, 393.3]],
	["HERVK-int", 63.3, 409, [55, 392.7, 63.3, 405]],
	["Other Single", 165.7, 438, [148.3, 437.7, 165, 435]],
	["LTR7-HERVH-int", 108.3, 450.5, [99.3, 447, 107.3, 447]],
	["Other Single", 157.3, 542, [140, 542.3, 156.7, 539]]
];
cLabels.forEach(d => {
	label(panelC, d[1], d[2], d[0], 8.2, {fill: "#333"});
	panelC.append("line")
		.attr("x1", d[3][0]).attr("y1", d[3][1]).attr("x2", d[3][2]).attr("y2", d[3][3])
		.attr("stroke", "#555").attr("stroke-width", 0.5);
});
integrantTicks.forEach(d => label(panelC, cX(d) + 1, 549, d, 5.5, {anchor: "middle", fill: "#333"}));
label(panelC, 49, 390, "Top 500 naive", 13.6, {anchor: "middle", rotate: -90, fill: "#222"});
label(panelC, 49, 497, "Top 500 primed", 13.6, {anchor: "middle", rotate: -90, fill: "#222"});
label(panelC, 147.5, 564, "Number of TE integrants", 15, {anchor: "middle", fill: "#222"});

// ---------- D ----------
var panelD = svg.append("g").attr("class", "panelD");
var speckleDots = [[1, 1], [5.2, 0.4], [9.4, 2], [13, 0.8], [16.6, 2.4], [2.6, 4.2], [7, 3.6], [11.2, 5], [15, 4.4], [0.6, 7.6], [4.4, 7], [8.6, 8.2], [12.8, 7.4], [16.8, 7.9], [2.2, 11], [6.4, 10.4], [10.6, 11.6], [14.6, 10.8], [0.8, 14.2], [4.8, 13.6], [8.8, 14.8], [12.6, 14], [16.4, 14.4], [2.8, 17], [7, 16.6], [11, 17.4], [15, 17]];
var addSpeckle = (id, shift) => {
	var tile = defs.append("pattern")
		.attr("id", id)
		.attr("patternUnits", "userSpaceOnUse")
		.attr("patternTransform", "translate(" + shift + "," + (shift * 0.7) + ")")
		.attr("width", 18).attr("height", 18);
	tile.selectAll("circle").data(speckleDots).join("circle")
		.attr("cx", d => d[0]).attr("cy", d => d[1])
		.attr("r", 0.72).attr("fill", "#c8c8c8");
}
addSpeckle("speckle", 0);
addSpeckle("speckle2", 2);
addSpeckle("speckle3", 7);

var dY = d3.scaleLinear().domain([-1.65, 16.6]).range([550, 340]);
var scatterSeries = [
	{points: svaA, color: "#3f9a68"},
	{points: svaB, color: "#d2602a"},
	{points: svaC, color: "#6a55b0"},
	{points: svaD, color: "#cc2a90"},
	{points: svaE, color: "#6aa82c"},
	{points: svaF, color: "#e0a020"}
];
var drawScatter = (dX, x0, x1, series, r) => {
	var g = panelD.append("g");
	g.append("rect")
		.attr("x", x0).attr("y", 340).attr("width", x1 - x0).attr("height", 210)
		.attr("fill", "#fff");
	var poly = d3.line().x(d => dX(d[0])).y(d => dY(d[1])).curve(d3.curveLinearClosed);
	g.append("path").attr("d", poly(sparseCloud)).attr("fill", "url(#speckle)");
	g.append("path").attr("d", poly(mediumCloud)).attr("fill", "url(#speckle2)");
	g.append("path").attr("d", poly(mediumCloud)).attr("fill", "url(#speckle3)");
	g.append("path").attr("d", poly(denseCloud)).attr("fill", "#cacaca");
	// floor row and zero column of the log scale
	g.append("line")
		.attr("x1", dX(0.9)).attr("x2", dX(7.6)).attr("y1", dY(-0.9)).attr("y2", dY(-0.9))
		.attr("stroke", "#c8c8c8").attr("stroke-width", 1.1).attr("stroke-dasharray", "1.2 0.5");
	g.append("line")
		.attr("x1", dX(-0.95)).attr("x2", dX(-0.95)).attr("y1", dY(-0.4)).attr("y2", dY(8.8))
		.attr("stroke", "#c8c8c8").attr("stroke-width", 1.2).attr("stroke-dasharray", "1.2 0.5");
	g.append("line")
		.attr("x1", dX(-0.7)).attr("x2", dX(-0.7)).attr("y1", dY(0)).attr("y2", dY(8.6))
		.attr("stroke", "#d0d0d0").attr("stroke-width", 0.8).attr("stroke-dasharray", "1 1");
	g.selectAll("circle.other").data(otherPoints).join("circle")
		.attr("class", "other")
		.attr("cx", d => dX(d[0])).attr("cy", d => dY(d[1]))
		.attr("r", 0.7).attr("fill", "#c8c8c8");
	series.forEach(s => {
		g.selectAll(null).data(s.points).join("circle")
			.attr("cx", d => dX(d[0])).attr("cy", d => dY(d[1]))
			.attr("r", r).attr("fill", s.color);
	});
	g.append("line")
		.attr("x1", dX(-1.65)).attr("y1", dY(-1.65)).attr("x2", dX(16.6)).attr("y2", dY(16.6))
		.attr("stroke", "#555").attr("stroke-width", 0.7);
	g.append("rect")
		.attr("x", x0).attr("y", 340).attr("width", x1 - x0).attr("height", 210)
		.attr("fill", "none").attr("stroke", "#9a9a9a").attr("stroke-width", 1);
	var xAxis = g.append("g")
		.attr("transform", "translate(0,550)")
		.call(d3.axisBottom(dX).tickValues([0, 5, 10, 15]).tickSize(3).tickFormat(d => d % 10 == 0 ? d : ""));
	xAxis.select("path").remove();
	xAxis.selectAll("line").attr("stroke", "#666").attr("stroke-width", 0.6);
	xAxis.selectAll("text").attr("font-size", 7).attr("fill", "#333").attr("y", 3.5).attr("dy", "0.6em");
	var yAxis = g.append("g")
		.attr("transform", "translate(" + x0 + ",0)")
		.call(d3.axisLeft(dY).tickValues([0, 5, 10, 15]).tickSize(3.5).tickFormat(d => (x0 < 400 && d % 10 == 0) ? d : ""));
	yAxis.select("path").remove();
	yAxis.selectAll("line").attr("stroke", "#666").attr("stroke-width", 0.6);
	yAxis.selectAll("text").attr("font-size", 7.5).attr("fill", "#333");
	label(g, (x0 + x1) / 2 - 13, 570, "Log2 Expression Primed ES", 10.4, {anchor: "middle", fill: "#444"});
}
var dXLeft = d3.scaleLinear().domain([-1.65, 16.6]).range([313, 548]);
var dXRight = d3.scaleLinear().domain([-1.69, 16.56]).range([556.7, 790]);
drawScatter(dXLeft, 313, 548, scatterSeries, 1);
drawScatter(dXRight, 556.7, 790, [{points: hervh, color: "#d8141c"}], 1);
label(panelD, 296, 440, "Log2 Expression Naive", 10.4, {anchor: "middle", rotate: -90, fill: "#333"});

var legendLeft = ["SVA_A", "SVA_B", "SVA_C", "SVA_D", "SVA_E", "SVA_F", "Other"];
var legendLeftColors = ["#3f9a68", "#d2602a", "#6a55b0", "#cc2a90", "#6aa82c", "#e0a020", "#c8c8c8"];
panelD.append("rect")
	.attr("x", 313).attr("y", 340).attr("width", 38.3).attr("height", 54)
	.attr("fill", "#fff").attr("stroke", "#8a8a8a").attr("stroke-width", 0.8);
legendLeft.forEach((d, i) => {
	var ly = 344 + i * 7.65;
	panelD.append("circle").attr("cx", 318).attr("cy", ly).attr("r", 0.9).attr("fill", legendLeftColors[i]);
	label(panelD, 322, ly + 2.4, d, 7, {fill: "#333"});
});
panelD.append("rect")
	.attr("x", 556.7).attr("y", 340).attr("width", 56.5).attr("height", 24)
	.attr("fill", "#fff").attr("stroke", "#8a8a8a").attr("stroke-width", 0.8);
[["HERVH", "#d8141c"], ["Other", "#c8c8c8"]].forEach((d, i) => {
	var ly = 347.3 + i * 8.4;
	panelD.append("circle").attr("cx", 562.7).attr("cy", ly).attr("r", 1).attr("fill", d[1]);
	label(panelD, 566.7, ly + 2.5, d[0], 7, {fill: "#333"});
});

// ---------- E ----------
var panelE = svg.append("g").attr("class", "panelE");
var addGradient = (id, c0, c1) => {
	var grad = defs.append("linearGradient")
		.attr("id", id).attr("x1", 0).attr("y1", 0).attr("x2", 0).attr("y2", 1);
	grad.append("stop").attr("offset", "0%").attr("stop-color", c0);
	grad.append("stop").attr("offset", "100%").attr("stop-color", c1);
}
addGradient("blueBar", "#b4ccfb", "#5a7cc4");
addGradient("redBar", "#e9a59e", "#b2443c");
var eY = d3.scaleLinear().domain([0, 100]).range([792.7, 595.3]);

var drawStack = (names, up, nochange, counts, frame, bandRange, gridRange, tickX) => {
	var g = panelE.append("g");
	g.append("rect")
		.attr("x", frame[0]).attr("y", 588.3).attr("width", frame[1] - frame[0]).attr("height", 245.7)
		.attr("fill", "#fff").attr("stroke", "#cfcfcf").attr("stroke-width", 1);
	percentTicks.forEach(t => {
		g.append("line")
			.attr("x1", gridRange[0]).attr("x2", gridRange[1]).attr("y1", eY(t)).attr("y2", eY(t))
			.attr("stroke", "#cfcfcf").attr("stroke-width", 0.8);
		label(g, tickX, eY(t) + 1.4, t + "%", 3.9, {anchor: "end", fill: "#555"});
	});
	var eX = d3.scaleBand().domain(names).range(bandRange).padding(0.36);
	names.forEach((name, i) => {
		var segs = [
			[0, up[i], "url(#blueBar)", counts[0][i]],
			[up[i], up[i] + nochange[i], "#a9a9a9", counts[1][i]],
			[up[i] + nochange[i], 100, "url(#redBar)", counts[2][i]]
		];
		segs.forEach(s => {
			if (s[1] > s[0]) {
				g.append("rect")
					.attr("x", eX(name))
					.attr("y", eY(s[1]))
					.attr("width", eX.bandwidth())
					.attr("height", eY(s[0]) - eY(s[1]))
					.attr("fill", s[2]);
			}
			label(g, eX(name) + eX.bandwidth() / 2, eY(Math.min((s[0] + s[1]) / 2, 99.4)) + 1.7, s[3], 4.8, {anchor: "middle", bold: true, fill: "#1a1a2a"});
		});
		var bx = eX(name) + eX.bandwidth() / 2 + 3;
		label(g, bx, 800, name, 7.8, {anchor: "end", rotate: -45, fill: "#222"});
	});
}
drawStack(naiveNames, naiveUp, naiveNoChange, [naiveUpCounts, naiveNoCounts, naivePrimedCounts], [89.3, 392.7], [108.4, 386.6], [106, 385], 104);
drawStack(primedNames, primedUp, primedNoChange, [primedUpCounts, primedNoCounts, primedPrimedCounts], [396, 700.7], [423.6, 693.9], [421, 692], 419);

label(panelE, 238, 584, "Naive ES TE signature", 15, {anchor: "middle", fill: "#222"});
label(panelE, 548, 584, "Primed ES TE signature", 15, {anchor: "middle", fill: "#222"});
label(panelE, 83, 708, "Number of TE integrants", 16, {anchor: "middle", rotate: -90, fill: "#222"});
["url(#blueBar)", "#a9a9a9", "#d42a1e"].forEach((c, i) => {
	var ly = 661 + i * 27.9;
	panelE.append("rect")
		.attr("x", 703.5).attr("y", ly - 5).attr("width", 9).attr("height", 10)
		.attr("fill", c);
	label(panelE, 715.5, ly + 5, legendNames[i], 14.6, {fill: "#222"});
});

// ---------- F ----------
var panelF = svg.append("g").attr("class", "panelF");
var sliceColors = ["#5a72a6", "#8e4a48", "#92a652", "#6e5a90", "#6098ae", "#c48c4a", "#a0acd2", "#c49c9c", "#bdcc9a"];
var pieLayout = d3.pie().sort(null).value(d => d).startAngle(0).endAngle(2 * Math.PI);
var sliceArc = d3.arc().innerRadius(0).outerRadius(74);
var pieCenters = [[208.7, 963.3], [445.4, 964], [675, 963.3]];
var pieTitleX = [207.7, 444, 672];
var explode = 18.4;
// label anchors in page pixels, same order as the names
var pieLabelPos = [
	[[280.7, 948.7], [213.3, 1045.3], [154, 1054.7], [125, 1032.7], [106, 999.3], [84, 975.3], [102, 960.7], [100, 947.3], [157.3, 906]],
	[[512.3, 933], [516.7, 1042.7], [465.7, 1060.7], [423.3, 1061.3], [380.7, 1047.7], [347.7, 1032.7], [353, 1016.7], [343.3, 1004], [380.7, 922]],
	[[738.7, 926.7], [765, 1024], [740, 1048], [711.3, 1057], [662, 1062.3], [611.3, 1068], [622.3, 1051.7], [594.7, 1040.3], [602.7, 938.3]]
];
[pie5iValues, pie4iValues, pieT2iValues].forEach((values, p) => {
	var names = [pie5iNames, pie4iNames, pieT2iNames][p];
	var g = panelF.append("g").attr("transform", "translate(" + pieCenters[p][0] + "," + pieCenters[p][1] + ")");
	g.selectAll("path").data(pieLayout(values)).join("path")
		.attr("d", sliceArc)
		.attr("fill", (d, i) => sliceColors[i])
		.attr("transform", d => {
			var mid = (d.startAngle + d.endAngle) / 2;
			return "translate(" + (Math.sin(mid) * explode) + "," + (-Math.cos(mid) * explode) + ")";
		});
	names.forEach((name, i) => {
		var lines = name.split("\n");
		lines.forEach((line, k) => {
			label(panelF, pieLabelPos[p][i][0], pieLabelPos[p][i][1] + 2.8 + k * 10, line, 8.2, {anchor: "middle", bold: true, fill: "#111"});
		});
	});
	label(panelF, pieTitleX[p], 866, pieTitles[p], 16, {anchor: "middle", fill: "#222"});
});
[[610.7, 1042.7, 622.7, 1039.3], [626.7, 1071.7, 631.7, 1070.7], [631.7, 1070.7, 643.3, 1050.7]].forEach(d => {
	panelF.append("line")
		.attr("x1", d[0]).attr("y1", d[1]).attr("x2", d[2]).attr("y2", d[3])
		.attr("stroke", "#444").attr("stroke-width", 0.5);
});
label(panelF, 39, 955, "Top 100 TE integrants", 16.5, {anchor: "middle", rotate: -90, fill: "#222"});
</script>
</body>
</html>
